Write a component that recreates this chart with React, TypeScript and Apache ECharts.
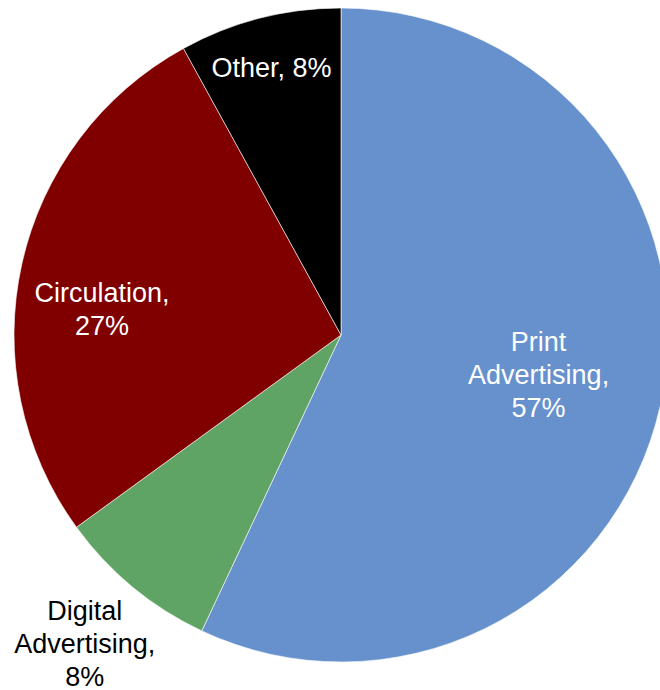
import React, { useEffect, useRef } from "react";
import * as echarts from "echarts";

const categories = ["Print Advertising", "Digital Advertising", "Circulation", "Other"];
const values = [57, 8, 27, 8];
const labelTexts = ["Print\nAdvertising,\n57%", "Digital\nAdvertising,\n8%", "Circulation,\n27%", "Other, 8%"];
const colors = ["#6691CC", "#5FA365", "#800000", "#000000"];
const labelColors = ["#ffffff", "#000000", "#ffffff", "#ffffff"];
const labelRadiusFrac = [0.61, 1.22, 0.74, 0.845];
const labelNudgeY = [-4, -1, 28, 4];

export default function App() {
  const ref = useRef<HTMLDivElement>(null);
  useEffect(() => {
    if (!ref.current) return;
    const chart = echarts.init(ref.current, undefined, { renderer: "svg" });
    const R = 327;
    const total = values.reduce((a, b) => a + b, 0);
    const mids: number[] = [];
    let cum = 0;
    values.forEach((v) => {
      mids.push(((cum + v / 2) / total) * 2 * Math.PI);
      cum += v;
    });
    chart.setOption({
      animation: false,
      backgroundColor: "#ffffff",
      series: [
        {
          type: "pie",
          center: [341, 335],
          radius: [0, R],
          startAngle: 90,
          clockwise: true,
          itemStyle: { borderColor: "#ffffff", borderWidth: 0.6 },
          label: {
            show: true,
            position: "inside",
            fontFamily: "Liberation Sans, Arial, sans-serif",
            fontSize: 27,
            lineHeight: 33,
            align: "center",
            formatter: (p: any) => labelTexts[p.dataIndex],
          },
          labelLine: { show: false },
          labelLayout: (p: any) => {
            const i = p.dataIndex;
            const d = (labelRadiusFrac[i] - 0.5) * R;
            return { dx: d * Math.sin(mids[i]), dy: -d * Math.cos(mids[i]) + labelNudgeY[i] };
          },
          data: categories.map((c, i) => ({
            name: c,
            value: values[i],
            itemStyle: { color: colors[i] },
            label: { color: labelColors[i] },
          })),
        },
      ],
    });
    return () => chart.dispose();
  }, []);
  return (
    <div
      ref={ref}
      style={{ position: "fixed", left: 0, top: 0, width: 660, height: 690 }}
    />
  );
}
